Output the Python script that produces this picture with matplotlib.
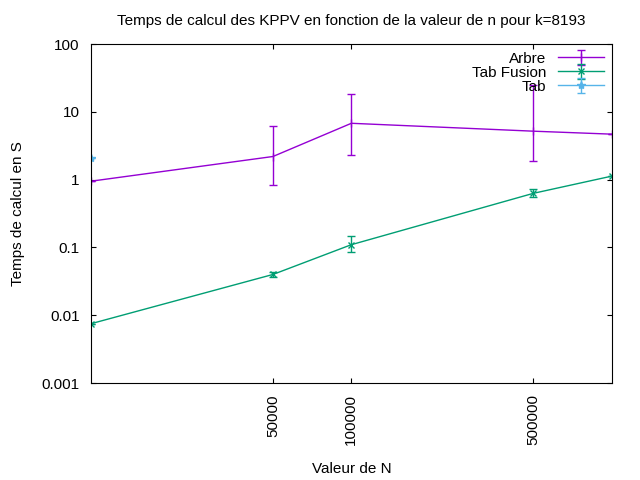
import matplotlib
matplotlib.use("Agg")
import matplotlib.pyplot as plt

plt.rcParams['font.family'] = ['Liberation Sans', 'DejaVu Sans']

n = [10000, 50000, 100000, 500000, 1000000]

arbre = [0.95, 2.2, 6.8, 5.2, 4.7]
arbre_lo = [0.95, 0.83, 2.3, 1.9, 4.7]
arbre_hi = [0.95, 6.3, 18.5, 25.0, 4.7]

fusion = [0.0075, 0.040, 0.11, 0.63, 1.13]
fusion_lo = [0.0075, 0.037, 0.085, 0.55, 1.13]
fusion_hi = [0.0075, 0.044, 0.15, 0.72, 1.13]

tab_n = [10000]
tab = [2.1]

fig, ax = plt.subplots(figsize=(6.4, 4.8), dpi=100)
fig.subplots_adjust(left=0.142, right=0.956, top=0.908, bottom=0.202)

def err(v, lo, hi):
    return [[a - b for a, b in zip(v, lo)], [b - a for a, b in zip(v, hi)]]

ax.errorbar(n, arbre, yerr=err(arbre, arbre_lo, arbre_hi), color='#9400d3',
            marker='|', ms=6, lw=1, elinewidth=1, capsize=3, label='Arbre')
ax.errorbar(n, fusion, yerr=err(fusion, fusion_lo, fusion_hi), color='#009e73',
            marker='x', ms=5, lw=1, elinewidth=1, capsize=3, label='Tab Fusion')
ax.errorbar(tab_n, tab, yerr=[[0], [0]], color='#56b4e9', marker='*', ms=6,
            lw=1, capsize=3, label='Tab')

ax.set_xscale('log')
ax.set_yscale('log')
ax.set_xlim(10000, 1000000)
ax.set_ylim(0.001, 100)
ax.set_xticks([50000, 100000, 500000])
ax.set_xticklabels(['50000', '100000', '500000'], rotation=90)
ax.xaxis.set_minor_locator(matplotlib.ticker.NullLocator())
ax.yaxis.set_minor_locator(matplotlib.ticker.NullLocator())
ax.set_yticks([0.001, 0.01, 0.1, 1, 10, 100])
ax.set_yticklabels(['0.001', '0.01', '0.1', '1', '10', '100'])
ax.tick_params(direction='in', labelsize=11, top=True, right=True, pad=8)

ax.set_xlabel('Valeur de N', fontsize=11, labelpad=12)
ax.set_ylabel('Temps de calcul en S', fontsize=11, labelpad=12)
ax.set_title('Temps de calcul des KPPV en fonction de la valeur de n pour k=8193',
             fontsize=11, pad=14)
ax.legend(loc='upper right', frameon=False, markerfirst=False, fontsize=11,
          handlelength=3, borderaxespad=0.1, labelspacing=0.0)

fig.savefig('out.png')
